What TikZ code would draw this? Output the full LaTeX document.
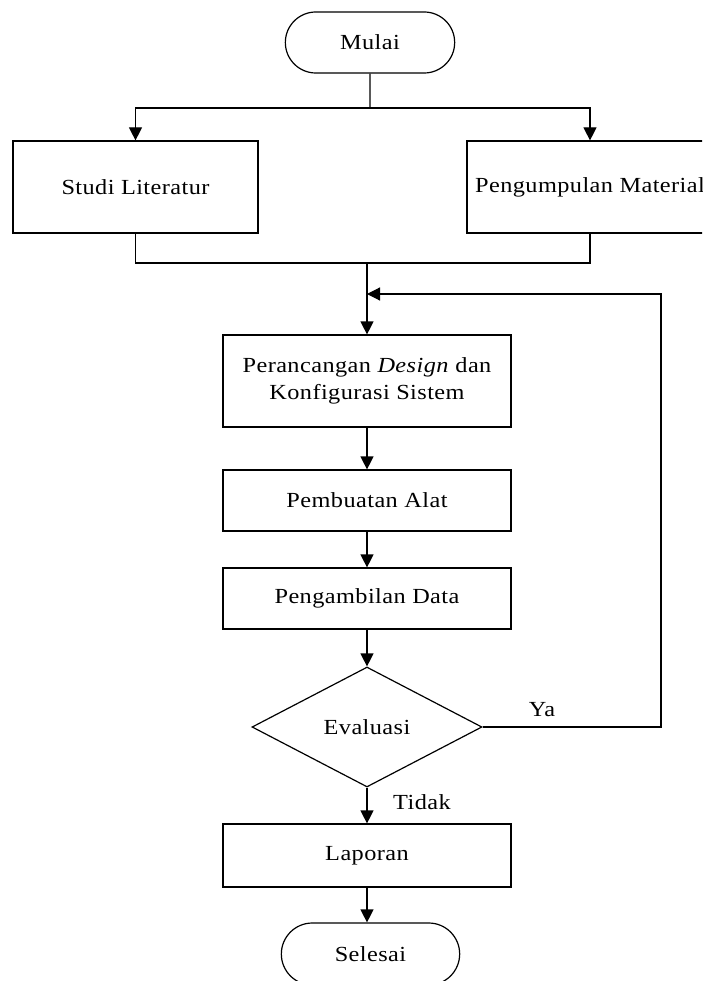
\documentclass[tikz,border=0pt]{standalone}
\usepackage{fontspec}
\setmainfont{Liberation Serif}[FakeStretch=1.13, LetterSpace=2]
\usepackage{tikz}
\usetikzlibrary{shapes.geometric, shapes.misc, arrows.meta}

\begin{document}
\begin{tikzpicture}[x=1pt, y=-1pt, font=\fontsize{21.5}{27}\selectfont, line width=1.2pt, terminal/.style={draw, rounded rectangle, minimum width=176pt, minimum height=61pt}, proc/.style={draw, rectangle, align=center, minimum width=288pt, minimum height=61pt, inner sep=0pt}, dec/.style={draw, diamond, minimum width=230pt, minimum height=120pt, inner sep=0pt}, n/.style={-{Triangle[length=13pt, width=13pt]}}]
            \clip (0,0) rectangle (702,981);
            % nodes
            \node[terminal] (mulai) at (370,42.5) {Mulai};

            \node[proc, minimum width=245pt, minimum height=92pt] (studi) at (135.5,187) {Studi Literatur};
            \node[proc, minimum width=246pt, minimum height=92pt] (kumpul) at (590,187) {Pengumpulan Material};

            \node[proc, minimum height=92pt] (rancang) at (367,381) {Perancangan \textit{Design} dan\\Konfigurasi Sistem};
            \node[proc] (buat) at (367,500.5) {Pembuatan Alat};
            \node[proc] (ambil) at (367,598.5) {Pengambilan Data};
            \node[dec] (evaluasi) at (367,727) {Evaluasi};
            \node[proc, minimum height=63pt] (laporan) at (367,855.5) {Laporan};
            \node[terminal, minimum width=185pt, minimum height=62pt] (selesai) at (370.5,954) {Selesai};

            \node[] (ya) at (542,710) {Ya};
            \node[] (tidak) at (422,802) {Tidak};

            \coordinate (cabang) at (370,108);
            \coordinate (gabung) at (367,263);
            \coordinate (balik) at (367,294);
            \coordinate (sudut) at (661,294);
            % edges
            \draw (mulai) -- (cabang);
            \draw [n] (cabang) -| (studi);
            \draw [n] (cabang) -| (kumpul);
            \draw (studi) |- (gabung) -| (kumpul);
            \draw [n] (gabung) -- (rancang);

            \draw [n] (rancang) -- (buat);
            \draw [n] (buat) -- (ambil);
            \draw [n] (ambil) -- (evaluasi);
            \draw [n] (evaluasi) -| (sudut) -- (balik);
            \draw [n] (evaluasi) -- (laporan);
            \draw [n] (laporan) -- (laporan.south |- selesai.north);
        \end{tikzpicture}
\end{document}
